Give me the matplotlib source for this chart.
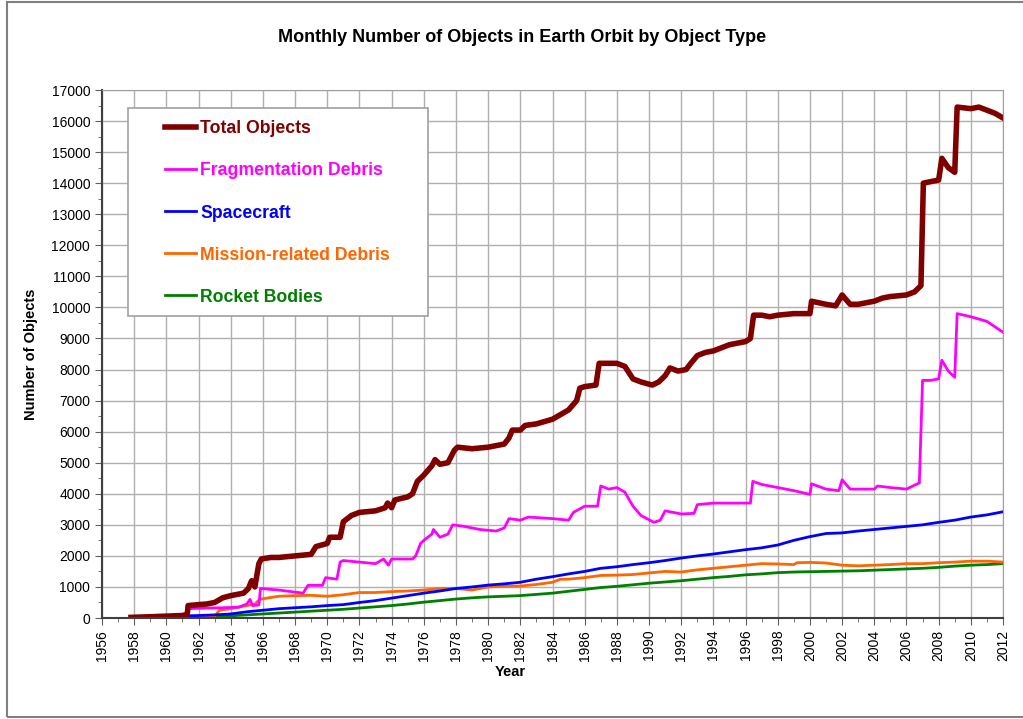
import matplotlib
matplotlib.use('Agg')
import matplotlib.pyplot as plt
from matplotlib.patches import Rectangle
from matplotlib.ticker import MultipleLocator

plt.rcParams['font.family'] = ['Liberation Sans', 'DejaVu Sans']

# Total Objects
total_years = [1957.8, 1959.0, 1960.0, 1961.0, 1961.3, 1961.35, 1962.0, 1962.5, 1963.0, 1963.5,
               1964.0, 1964.8, 1965.1, 1965.3, 1965.5, 1965.75, 1965.9, 1966.5, 1967.0, 1968.0,
               1969.0, 1969.3, 1970.0, 1970.15, 1970.8, 1971.0, 1971.5, 1972.0, 1973.0, 1973.6,
               1973.75, 1974.0, 1974.2, 1975.0, 1975.3, 1975.6, 1976.0, 1976.5, 1976.7, 1977.0,
               1977.5, 1977.9, 1978.1, 1979.0, 1980.0, 1981.0, 1981.3, 1981.5, 1982.0, 1982.3,
               1983.0, 1984.0, 1985.0, 1985.5, 1985.7, 1986.0, 1986.7, 1986.9, 1987.5, 1988.0,
               1988.5, 1989.0, 1989.5, 1990.2, 1990.6, 1991.0, 1991.3, 1991.8, 1992.3, 1992.6,
               1993.0, 1993.5, 1994.0, 1995.0, 1996.0, 1996.3, 1996.5, 1997.0, 1997.5, 1998.0,
               1999.0, 2000.0, 2000.1, 2001.0, 2001.6, 2002.0, 2002.5, 2003.0, 2004.0, 2004.5,
               2005.0, 2006.0, 2006.5, 2006.9, 2007.05, 2007.5, 2008.0, 2008.2, 2008.6, 2009.0,
               2009.15, 2010.0, 2010.5, 2011.0, 2011.5, 2012.0]
total_values = [20, 40, 60, 80, 120, 400, 430, 450, 500, 650,
                720, 800, 950, 1200, 1000, 1750, 1900, 1950, 1950, 2000,
                2050, 2300, 2400, 2600, 2600, 3100, 3300, 3400, 3450, 3550,
                3700, 3550, 3800, 3900, 4000, 4400, 4600, 4900, 5100, 4950,
                5000, 5400, 5500, 5450, 5500, 5600, 5800, 6050, 6050, 6200,
                6250, 6400, 6700, 7000, 7400, 7450, 7500, 8200, 8200, 8200,
                8100, 7700, 7600, 7500, 7600, 7800, 8050, 7950, 8000, 8200,
                8450, 8550, 8600, 8800, 8900, 9000, 9750, 9750, 9700, 9750,
                9800, 9800, 10200, 10100, 10050, 10400, 10100, 10100, 10200, 10300,
                10350, 10400, 10500, 10700, 14000, 14050, 14100, 14800, 14500, 14350,
                16450, 16400, 16450, 16350, 16250, 16100]

# Fragmentation Debris
frag_years = [1957.8, 1961.3, 1961.35, 1962.5, 1963.5, 1964.5, 1965.0, 1965.2, 1965.35, 1965.75,
              1965.85, 1967.0, 1968.5, 1968.8, 1969.7, 1969.9, 1970.6, 1970.8, 1971.0, 1972.0,
              1973.0, 1973.5, 1973.8, 1974.0, 1975.3, 1975.5, 1975.8, 1976.0, 1976.5, 1976.6,
              1977.0, 1977.5, 1977.8, 1978.5, 1979.5, 1980.5, 1981.0, 1981.3, 1982.0, 1982.5,
              1984.0, 1985.0, 1985.3, 1986.0, 1986.8, 1987.0, 1987.5, 1988.0, 1988.5, 1989.0,
              1989.5, 1990.3, 1990.7, 1991.0, 1992.0, 1992.8, 1993.0, 1994.0, 1995.0, 1996.3,
              1996.45, 1997.0, 1998.0, 1999.0, 2000.0, 2000.1, 2001.0, 2001.8, 2002.0, 2002.5,
              2004.0, 2004.2, 2005.0, 2006.0, 2006.8, 2007.0, 2007.5, 2008.0, 2008.2, 2008.6,
              2009.0, 2009.15, 2010.0, 2011.0, 2012.0]
frag_values = [0, 0, 300, 320, 330, 350, 450, 600, 400, 420,
               950, 900, 800, 1050, 1050, 1300, 1250, 1800, 1850, 1800,
               1750, 1900, 1700, 1900, 1900, 2000, 2400, 2500, 2700, 2850,
               2600, 2700, 3000, 2950, 2850, 2800, 2900, 3200, 3150, 3250,
               3200, 3150, 3400, 3600, 3600, 4250, 4150, 4200, 4050, 3600,
               3300, 3080, 3150, 3450, 3350, 3370, 3650, 3700, 3700, 3700,
               4400, 4300, 4200, 4100, 3980, 4320, 4150, 4100, 4450, 4150,
               4150, 4250, 4200, 4150, 4350, 7650, 7650, 7700, 8300, 7950,
               7750, 9800, 9700, 9550, 9200]

# Spacecraft
sc_years = [1957.8, 1960, 1962, 1963, 1964, 1965, 1966, 1967, 1968, 1969, 1970, 1971, 1972,
            1973, 1974, 1975, 1976, 1977, 1978, 1979, 1980, 1981, 1982, 1983, 1984, 1985,
            1986, 1987, 1988, 1989, 1990, 1991, 1992, 1993, 1994, 1995, 1996, 1997, 1998,
            1999, 2000, 2001, 2002, 2003, 2004, 2005, 2006, 2007, 2008, 2009, 2010, 2011, 2012]
sc_values = [0, 50, 80, 100, 130, 200, 250, 300, 330, 360, 400, 430, 500,
             560, 640, 720, 800, 870, 950, 1000, 1060, 1100, 1150, 1250, 1330, 1420,
             1500, 1600, 1650, 1720, 1780, 1850, 1930, 2000, 2060, 2130, 2200, 2260, 2350,
             2500, 2620, 2720, 2740, 2800, 2850, 2900, 2950, 3000, 3080, 3150, 3250, 3320, 3420]

# Mission-related Debris
mrd_years = [1957.8, 1961.3, 1963.0, 1963.3, 1964, 1965, 1965.5, 1965.8, 1966, 1967, 1968,
             1969, 1970, 1971, 1972, 1973, 1974, 1975, 1976, 1977, 1978, 1979, 1980, 1981,
             1982, 1983, 1984, 1984.5, 1985, 1986, 1987, 1988, 1989, 1990, 1991, 1992, 1993,
             1994, 1995, 1996, 1997, 1998, 1999, 1999.2, 2000, 2001, 2002, 2003, 2004, 2005,
             2006, 2007, 2008, 2009, 2010, 2011, 2012]
mrd_values = [0, 30, 50, 250, 300, 400, 450, 600, 620, 700, 720,
              730, 700, 750, 820, 820, 850, 870, 900, 950, 950, 900, 1000, 1020,
              1030, 1080, 1150, 1250, 1250, 1300, 1370, 1380, 1400, 1450, 1500, 1480, 1550,
              1600, 1650, 1700, 1750, 1740, 1720, 1780, 1790, 1770, 1700, 1680, 1700, 1720,
              1750, 1750, 1780, 1800, 1830, 1830, 1800]

# Rocket Bodies
rb_years = [1957.8, 1960, 1962, 1963, 1964, 1965, 1966, 1967, 1968, 1969, 1970, 1971, 1972,
            1973, 1974, 1975, 1976, 1977, 1978, 1979, 1980, 1981, 1982, 1983, 1984, 1985,
            1986, 1987, 1988, 1989, 1990, 1991, 1992, 1993, 1994, 1995, 1996, 1997, 1998,
            1999, 2000, 2001, 2002, 2003, 2004, 2005, 2006, 2007, 2008, 2009, 2010, 2011, 2012]
rb_values = [0, 20, 30, 50, 70, 100, 130, 160, 190, 220, 250, 280, 320,
             360, 400, 450, 510, 560, 610, 650, 680, 700, 720, 760, 800, 860,
             920, 980, 1020, 1070, 1120, 1160, 1200, 1250, 1300, 1340, 1390, 1420, 1460,
             1480, 1490, 1500, 1510, 1520, 1540, 1560, 1580, 1600, 1630, 1670, 1700, 1720, 1750]

x_ticks = list(range(1956, 2013, 2))

fig = plt.figure(figsize=(10.23, 7.19), dpi=100)
# outer frame of the picture
fig.patches.append(Rectangle((7 / 1023, 2 / 719), 1.05, 715 / 719, transform=fig.transFigure,
                             fill=False, edgecolor='#808080', linewidth=1.5))
ax = fig.add_axes([102 / 1023, 101 / 719, 901 / 1023, 528 / 719])

ax.plot(rb_years, rb_values, color='#008000', linewidth=2, label='Rocket Bodies')
ax.plot(mrd_years, mrd_values, color='#FF6600', linewidth=2, label='Mission-related Debris')
ax.plot(sc_years, sc_values, color='#0000FF', linewidth=2, label='Spacecraft')
ax.plot(frag_years, frag_values, color='#FF00FF', linewidth=2, label='Fragmentation Debris')
ax.plot(total_years, total_values, color='#800000', linewidth=4, label='Total Objects')

ax.set_xlim(1956, 2012)
ax.set_ylim(0, 17000)
ax.set_xticks(x_ticks)
ax.set_xticklabels([str(y) for y in x_ticks], rotation=90, fontsize=10)
ax.xaxis.set_minor_locator(MultipleLocator(1))
ax.yaxis.set_major_locator(MultipleLocator(1000))
ax.yaxis.set_minor_locator(MultipleLocator(500))
ax.tick_params(axis='y', labelsize=10, length=5, color='#606060')
ax.tick_params(axis='x', length=5, color='#606060')
ax.tick_params(which='minor', length=3, color='#606060')
ax.grid(True, which='major', color='#b0b0b0', linewidth=1)

for side in ['top', 'right']:
    ax.spines[side].set_color('#a0a0a0')
for side in ['left', 'bottom']:
    ax.spines[side].set_color('#404040')
    ax.spines[side].set_linewidth(1.5)

ax.set_xlabel('Year', fontsize=10.5, fontweight='bold')
ax.xaxis.set_label_coords((510 - 102) / 901, (618 - 665) / 528)
ax.set_ylabel('Number of Objects', fontsize=10.5, fontweight='bold', labelpad=10)
fig.text(522 / 1023, 1 - 37 / 719, 'Monthly Number of Objects in Earth Orbit by Object Type',
         ha='center', va='center', fontsize=13, fontweight='bold')

# legend box (drawn by hand so the padding matches)
ax.add_patch(Rectangle(((128 - 102) / 901, (618 - 316) / 528), 300 / 901, 208 / 528,
                       transform=ax.transAxes, facecolor='white', edgecolor='#a0a0a0',
                       linewidth=1.2, zorder=4))
handles, labels = ax.get_legend_handles_labels()
leg = ax.legend(handles[::-1], labels[::-1], loc='center left',
                bbox_to_anchor=((165 - 102) / 901, (618 - 213) / 528),
                fontsize=12.7, frameon=False, labelspacing=1.42, handlelength=1.76,
                handletextpad=0.23, borderpad=0, borderaxespad=0)
leg.set_zorder(5)
for text, line in zip(leg.get_texts(), leg.get_lines()):
    text.set_color(line.get_color())
    text.set_fontweight('bold')

plt.savefig('out.png', dpi=100)
